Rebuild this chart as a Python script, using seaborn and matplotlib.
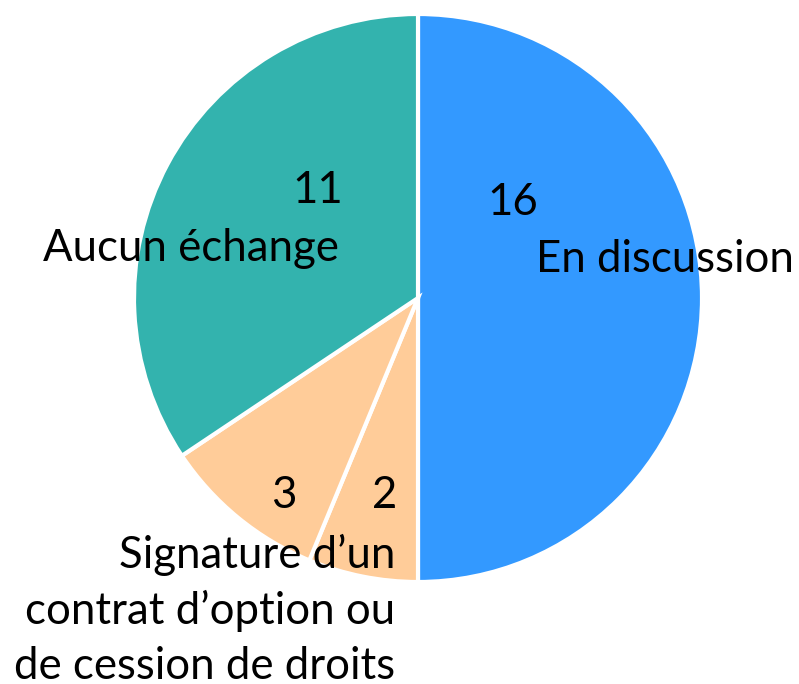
import matplotlib
matplotlib.use("Agg")
import matplotlib.pyplot as plt
import seaborn as sns

# ── Data ─────────────────────────────────────────────────────────────
categories = ["En discussion", "Signature (2)", "Signature (3)", "Aucun échange"]
counts     = [16, 2, 3, 11]
colors     = ["#3399FF", "#FFCC99", "#FFCC99", "#33B3AE"]

value_labels = ["16", "2", "3", "11"]
cat_labels   = ["En discussion",
                "Signature d\u2019un\ncontrat d\u2019option ou\nde cession de droits",
                "Aucun échange"]

sns.set_theme(style="white")
plt.rcParams["font.family"] = ["Lato", "DejaVu Sans"]

W, H = 799, 684
cx, cy, r = 418, 298, 284
fig = plt.figure(figsize=(W / 100, H / 100), dpi=100)
ax = fig.add_axes([(cx - r) / W, (H - cy - r) / H, 2 * r / W, 2 * r / H])

ax.pie(counts, colors=colors, startangle=90, counterclock=False,
       wedgeprops={"edgecolor": "white", "linewidth": 3}, radius=1)
ax.set_xlim(-1, 1)
ax.set_ylim(-1, 1)
ax.set_aspect("equal")
ax.axis("off")

fs = 31.5
# value labels (positions in pie units)
val_pos = [(0.335, 0.338), (-0.116, -0.694), (-0.472, -0.694), (-0.352, 0.38)]
for (x, y), t in zip(val_pos, value_labels):
    ax.text(x, y, t, ha="center", va="center", fontsize=fs, color="black")

# category labels
ax.text(0.87, 0.134, cat_labels[0], ha="center", va="center", fontsize=fs,
        color="black", clip_on=False)
ax.text(-0.081, -1.099, cat_labels[1], ha="right", va="center", fontsize=fs,
        color="black", linespacing=1.42, multialignment="right", clip_on=False)
ax.text(-0.80, 0.176, cat_labels[2], ha="center", va="center", fontsize=fs,
        color="black", clip_on=False)

plt.savefig("out.png", dpi=100)
plt.close()
